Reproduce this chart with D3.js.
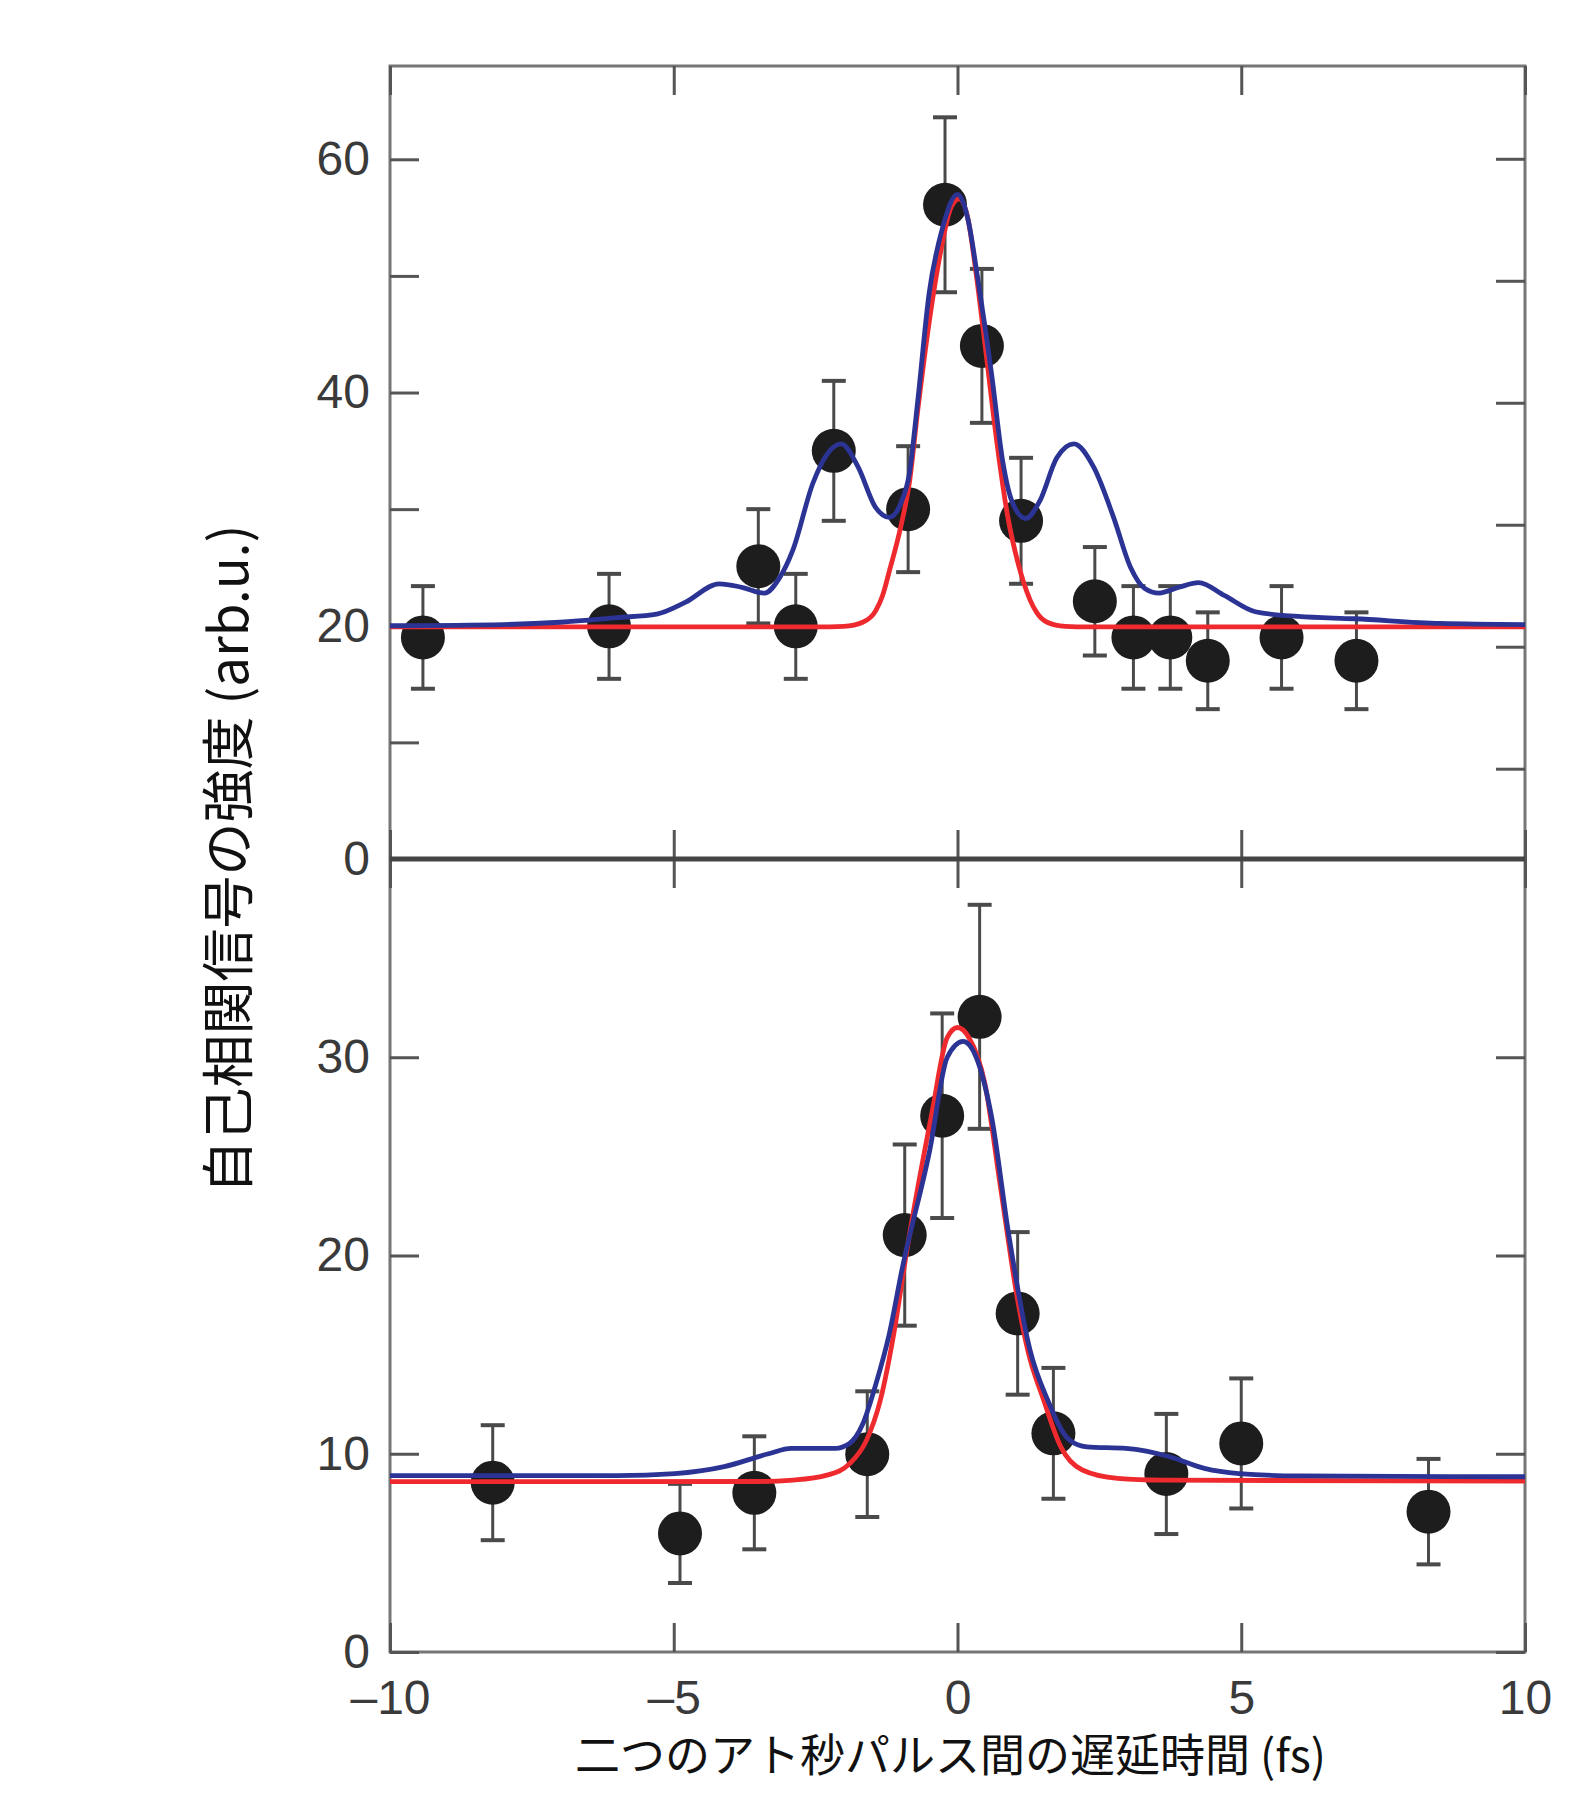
<!DOCTYPE html>
<html>
<head>
<meta charset="utf-8">
<script src="https://cdn.jsdelivr.net/npm/d3@7"></script>
<style>
  body { margin: 0; background: #fff; }
</style>
</head>
<body>
<div id="chart"></div>
<script>
// ---- data ----
const xTickValues = [-10, -5, 0, 5, 10];
const xTickLabels = ["\u201310", "\u20135", "0", "5", "10"];

// upper panel: measured points
const topDelay = [-9.42, -6.14, -3.51, -2.85, -2.18, -0.87, -0.22, 0.43, 1.12, 2.42, 3.10, 3.75, 4.41, 5.71, 7.03];
const topSignal = [19.0, 19.95, 25.1, 19.95, 35.0, 30.0, 56.1, 44.0, 29.0, 22.1, 19.0, 19.0, 17.0, 19.0, 17.0];
const topError = [4.4, 4.5, 4.9, 4.5, 6.0, 5.4, 7.5, 6.6, 5.4, 4.65, 4.4, 4.4, 4.15, 4.4, 4.15];

// upper panel: red fit
const topRedX = [-10, -2.5, -2.0, -1.67, -1.44, -1.32, -1.2, -1.0, -0.85, -0.7, -0.5, -0.3, -0.12, 0.03, 0.18, 0.32, 0.5, 0.7, 0.88, 1.06, 1.28, 1.4, 1.58, 1.9, 2.3, 10];
const topRedY = [19.9, 19.9, 19.95, 20.3, 21.3, 22.6, 24.7, 28.5, 32.2, 38.5, 46.0, 52.0, 55.8, 56.6, 55.0, 50.5, 43.5, 35.5, 29.5, 25.5, 22.2, 21.1, 20.3, 19.95, 19.9, 19.9];

// upper panel: blue fit
const topBlueX = [-10, -8, -7, -6, -5.3, -4.8, -4.2, -3.8, -3.4, -3.15, -2.9, -2.55, -2.3, -2.05, -1.75, -1.45, -1.2, -1.0, -0.85, -0.7, -0.5, -0.27, 0.0, 0.2, 0.35, 0.6, 0.8, 0.95, 1.2, 1.45, 1.75, 2.05, 2.4, 2.75, 3.05, 3.3, 3.55, 3.9, 4.25, 4.7, 5.25, 6, 7, 8.5, 10];
const topBlueY = [20.0, 20.1, 20.3, 20.7, 21.0, 22.0, 23.6, 23.3, 22.8, 24.0, 26.5, 32.2, 34.7, 35.6, 33.6, 30.2, 29.3, 30.5, 33.0, 39.3, 48.5, 54.0, 57.0, 54.5, 50.0, 41.6, 34.0, 30.8, 29.2, 30.7, 34.4, 35.6, 33.6, 29.3, 25.0, 23.2, 22.8, 23.3, 23.7, 22.6, 21.2, 20.8, 20.6, 20.2, 20.1];

// lower panel: measured points
const botDelay = [-8.19, -4.89, -3.58, -1.59, -0.93, -0.27, 0.39, 1.06, 1.69, 3.68, 5.0, 8.30];
const botSignal = [8.54, 5.98, 8.03, 9.98, 21.03, 27.05, 32.04, 17.08, 11.03, 8.98, 10.52, 7.08];
const botError = [2.9, 2.5, 2.85, 3.17, 4.57, 5.16, 5.65, 4.1, 3.3, 3.03, 3.28, 2.66];

// lower panel: red fit
const botRedX = [-10, -3.5, -2.9, -2.3, -1.9, -1.6, -1.36, -1.12, -0.89, -0.45, -0.18, 0.0, 0.2, 0.48, 0.75, 1.06, 1.24, 1.52, 1.82, 2.2, 2.82, 3.6, 10];
const botRedY = [8.59, 8.6, 8.67, 8.92, 9.5, 10.7, 12.7, 16.1, 20.3, 27.2, 31.0, 31.5, 31.0, 28.7, 23.6, 17.75, 15.2, 12.7, 10.35, 9.18, 8.76, 8.67, 8.62];

// lower panel: blue fit
const botBlueX = [-10, -6, -4.98, -4.11, -3.33, -2.93, -2.15, -1.91, -1.67, -1.44, -1.2, -0.97, -0.49, -0.18, 0.1, 0.33, 0.6, 0.9, 1.28, 1.59, 1.97, 2.28, 2.97, 3.74, 4.35, 4.96, 6.0, 10];
const botBlueY = [8.9, 8.9, 9.0, 9.35, 10.0, 10.27, 10.27, 10.5, 11.5, 13.5, 16.07, 19.4, 25.3, 30.0, 30.8, 30.0, 27.0, 21.1, 15.2, 12.7, 10.7, 10.35, 10.27, 9.85, 9.26, 9.0, 8.88, 8.84];

const topTicks = [0, 10, 20, 30, 40, 50, 60];
const topLabels = [0, 20, 40, 60];
const botTicks = [0, 10, 20, 30];

const xTitle = "二つのアト秒パルス間の遅延時間 (fs)";
const yTitle = "自己相関信号の強度 (arb.u.)";

// ---- layout ----
const canvasWidth = 1582;
const canvasHeight = 1794;
const margin = { top: 66, left: 390, right: 57, bottom: 142 };
const plotWidth = canvasWidth - margin.left - margin.right;
const panelSplit = 859;
const tickLen = 29;
const frameColor = "#767676";
const tickColor = "#555";
const labelFont = "'Liberation Sans', Arial, sans-serif";
const cjkFont = "'Noto Sans CJK JP', 'Noto Sans', sans-serif";

const svg = d3.select("#chart")
  .append("svg")
  .attr("width", canvasWidth)
  .attr("height", canvasHeight)
  .style("background", "#fff");

const x = d3.scaleLinear().domain([-10, 10]).range([margin.left, margin.left + plotWidth]);
const yTop = d3.scaleLinear().domain([0, 68]).range([panelSplit, margin.top]);
const yBot = d3.scaleLinear().domain([0, 40]).range([canvasHeight - margin.bottom, panelSplit]);

// the right-hand ticks of the upper panel are spaced a little wider than the left ones
const rightStretch = 1.046;
const yTopRight = (v) => yTop(60) + (yTop(v) - yTop(60)) * rightStretch;

function styleAxis(g, showLabels) {
  g.select(".domain").remove();
  g.selectAll(".tick line").attr("stroke", tickColor).attr("stroke-width", 3);
  g.selectAll(".tick text")
    .attr("fill", "#3a3a3a")
    .style("font-family", labelFont)
    .style("font-size", "48px");
  if (!showLabels) g.selectAll(".tick text").remove();
}

// ---- frame lines ----
const frame = svg.append("g");
frame.append("rect")
  .attr("x", x(-10)).attr("y", yTop(68))
  .attr("width", x(10) - x(-10)).attr("height", yBot(0) - yTop(68))
  .attr("fill", "none").attr("stroke", frameColor).attr("stroke-width", 3);

// ---- y axes ----
svg.append("g")
  .attr("transform", `translate(${x(-10)},0)`)
  .call(d3.axisLeft(yTop).tickValues(topTicks).tickSizeInner(-tickLen).tickSizeOuter(0).tickPadding(20)
    .tickFormat((d) => (topLabels.includes(d) ? d : "")))
  .call(styleAxis, true);

svg.append("g")
  .attr("transform", `translate(${x(10)},0)`)
  .call(d3.axisRight(yTop).tickValues(topTicks.filter((d) => d > 0)).tickSizeInner(-tickLen).tickSizeOuter(0))
  .call(styleAxis, false)
  .selectAll(".tick")
  .attr("transform", (d) => `translate(0,${yTopRight(d)})`);

svg.append("g")
  .attr("transform", `translate(${x(-10)},0)`)
  .call(d3.axisLeft(yBot).tickValues(botTicks).tickSizeInner(-tickLen).tickSizeOuter(0).tickPadding(20))
  .call(styleAxis, true);

svg.append("g")
  .attr("transform", `translate(${x(10)},0)`)
  .call(d3.axisRight(yBot).tickValues(botTicks).tickSizeInner(-tickLen).tickSizeOuter(0))
  .call(styleAxis, false);

// ---- x axes ----
svg.append("g")
  .attr("transform", `translate(0,${yTop(68)})`)
  .call(d3.axisTop(x).tickValues(xTickValues).tickSizeInner(-tickLen).tickSizeOuter(0))
  .call(styleAxis, false);

svg.append("g")
  .attr("transform", `translate(0,${panelSplit})`)
  .call(d3.axisBottom(x).tickValues(xTickValues).tickSizeInner(-tickLen).tickSizeOuter(0))
  .call(styleAxis, false);

svg.append("g")
  .attr("transform", `translate(0,${panelSplit})`)
  .call(d3.axisTop(x).tickValues(xTickValues).tickSizeInner(-tickLen).tickSizeOuter(0))
  .call(styleAxis, false);

svg.append("g")
  .attr("transform", `translate(0,${yBot(0)})`)
  .call(d3.axisBottom(x).tickValues(xTickValues).tickSizeInner(-tickLen).tickSizeOuter(0).tickPadding(28)
    .tickFormat((d, i) => xTickLabels[i]))
  .call(styleAxis, true);

// shared line between the two panels
svg.append("line")
  .attr("x1", x(-10)).attr("x2", x(10))
  .attr("y1", panelSplit).attr("y2", panelSplit)
  .attr("stroke", "#444").attr("stroke-width", 5);

// ---- panels ----
function drawPanel(y, delay, signal, error, redX, redY, blueX, blueY) {
  const g = svg.append("g");
  const points = delay.map((d, i) => ({ x: d, y: signal[i], e: error[i] }));

  const bars = g.selectAll(".err").data(points).join("g").attr("class", "err")
    .attr("stroke", "#4a4a4a").attr("stroke-width", 3);
  bars.append("line")
    .attr("x1", (d) => x(d.x)).attr("x2", (d) => x(d.x))
    .attr("y1", (d) => y(d.y - d.e)).attr("y2", (d) => y(d.y + d.e));
  bars.append("line")
    .attr("x1", (d) => x(d.x) - 12).attr("x2", (d) => x(d.x) + 12)
    .attr("y1", (d) => y(d.y + d.e)).attr("y2", (d) => y(d.y + d.e))
    .attr("stroke-width", 4);
  bars.append("line")
    .attr("x1", (d) => x(d.x) - 12).attr("x2", (d) => x(d.x) + 12)
    .attr("y1", (d) => y(d.y - d.e)).attr("y2", (d) => y(d.y - d.e))
    .attr("stroke-width", 4);

  g.selectAll(".dot").data(points).join("circle").attr("class", "dot")
    .attr("cx", (d) => x(d.x))
    .attr("cy", (d) => y(d.y))
    .attr("r", 22)
    .attr("fill", "#1d1d1d");

  const line = d3.line()
    .x((d) => x(d[0]))
    .y((d) => y(d[1]))
    .curve(d3.curveMonotoneX);

  g.append("path")
    .datum(redX.map((d, i) => [d, redY[i]]))
    .attr("d", line)
    .attr("fill", "none")
    .attr("stroke", "#ee2a2e")
    .attr("stroke-width", 4.8);

  g.append("path")
    .datum(blueX.map((d, i) => [d, blueY[i]]))
    .attr("d", line)
    .attr("fill", "none")
    .attr("stroke", "#2b3494")
    .attr("stroke-width", 4.8);
}

drawPanel(yTop, topDelay, topSignal, topError, topRedX, topRedY, topBlueX, topBlueY);
drawPanel(yBot, botDelay, botSignal, botError, botRedX, botRedY, botBlueX, botBlueY);

// ---- titles ----
svg.append("text")
  .attr("x", (x(-10) + x(10)) / 2 - 7)
  .attr("y", 1772)
  .attr("text-anchor", "middle")
  .attr("fill", "#111")
  .style("font-family", cjkFont)
  .style("font-size", "45px")
  .text(xTitle);

svg.append("text")
  .attr("transform", `translate(248,${panelSplit}) rotate(-90)`)
  .attr("text-anchor", "middle")
  .attr("fill", "#111")
  .style("font-family", cjkFont)
  .style("font-size", "53px")
  .text(yTitle);
</script>
</body>
</html>
